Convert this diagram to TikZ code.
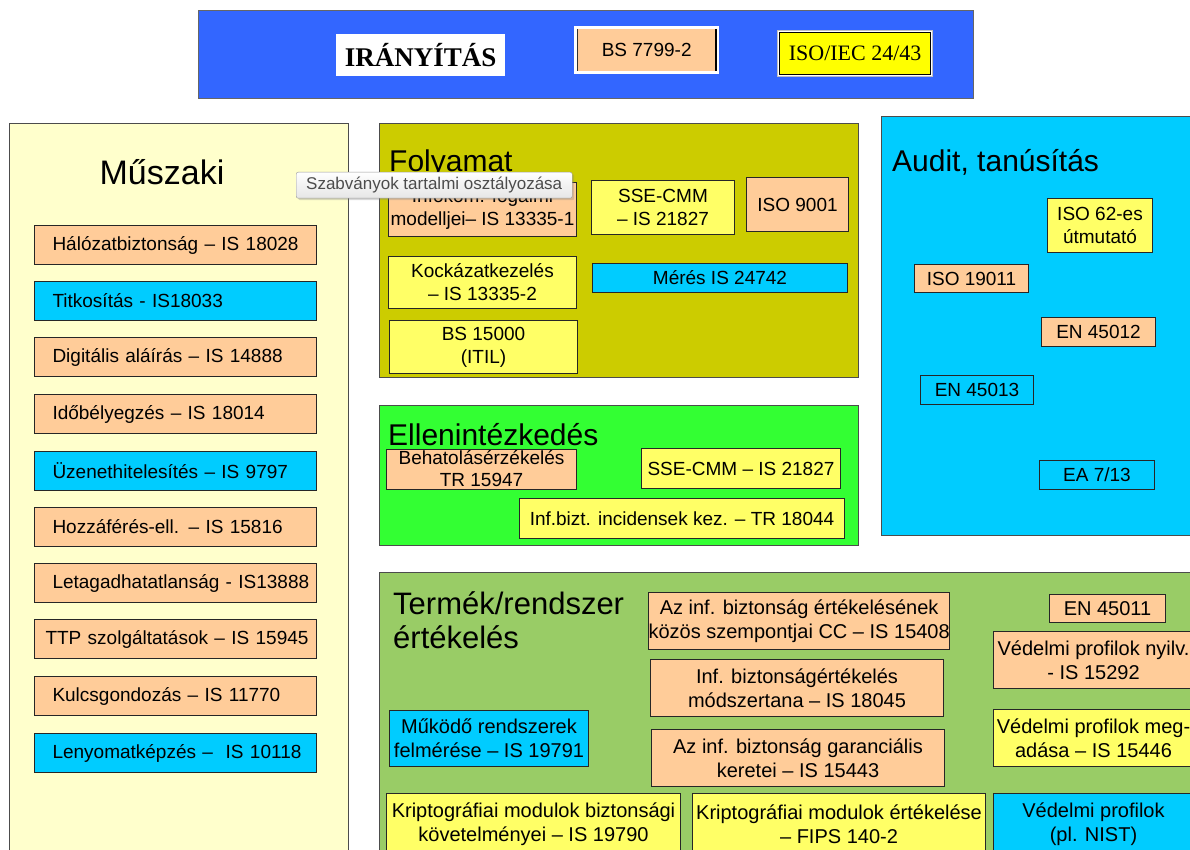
\documentclass[tikz,border=0pt]{standalone}
\usepackage{fontspec}
\setmainfont{Liberation Sans}
\newfontfamily\serifLS{Liberation Serif}
\usetikzlibrary{shadows}
\definecolor{peach}{HTML}{FFCC99}
\definecolor{cyanb}{HTML}{00CCFF}
\definecolor{yelb}{HTML}{FFFF66}
\definecolor{olivebg}{HTML}{CCCC00}
\definecolor{greenbg}{HTML}{33FF33}
\definecolor{termbg}{HTML}{99CC66}
\definecolor{muszbg}{HTML}{FFFFCC}
\definecolor{topbar}{HTML}{3366FF}
\definecolor{isoyel}{HTML}{FFFF00}
\newcommand\fsBox{\fontsize{19}{23}\selectfont}
\newcommand\fsTerm{\fontsize{20}{24}\selectfont}
\newcommand\fsTitle{\fontsize{30}{35}\selectfont}
\tikzset{
  box/.style={draw=black!85, line width=1pt, inner sep=0pt, align=center, anchor=north west, font=\fsBox},
  tbox/.style={box, font=\fsTerm},
  mbox/.style={box, text width=246pt, inner xsep=18pt, inner ysep=0pt, align=left, minimum height=39pt},
  area/.style={draw=black!70, line width=1pt, inner sep=0pt, anchor=north west},
  title/.style={anchor=base west, inner sep=0pt, font=\fsTitle},
}
\begin{document}
\begin{tikzpicture}[x=1pt,y=-1pt]
\useasboundingbox (0,0) rectangle (1190,850);
\fill[white] (0,0) rectangle (1190,850);
\clip (0,0) rectangle (1190,850);

% ---------- top bar ----------
\node[area, fill=topbar, draw=black!60, minimum width=775pt, minimum height=88pt] (bar) at (198,10) {};
\node[anchor=north west, fill=white, inner sep=0pt, minimum width=169pt, minimum height=42pt,
      font=\serifLS\bfseries\fontsize{27}{30}\selectfont] (iran) at (336,34) {IRÁNYÍTÁS};
\node[anchor=north west, fill=white, inner sep=0pt, minimum width=145pt, minimum height=48pt] (bsout) at (574,26) {};
\node[anchor=north west, fill=peach, inner sep=0pt, minimum width=139pt, minimum height=42pt,
      font=\fontsize{19}{22}\selectfont] (bs) at (577,29) {BS 7799-2};
\draw[black!80, line width=1pt] (bs.north west) -- (bs.south west);
\draw[black, line width=2pt] (bs.north east) -- (bs.south east);
\node[anchor=north west, fill=white, draw=black!25, inner sep=0pt, minimum width=155pt, minimum height=46pt] (isoout) at (777,30) {};
\node[box, fill=isoyel, draw=black, line width=1.3pt, minimum width=151pt, minimum height=42pt,
      font=\serifLS\fontsize{22}{24}\selectfont] (iso) at (779,32) {ISO/IEC 24/43};

% ---------- Műszaki ----------
\node[area, fill=muszbg, minimum width=339pt, minimum height=740pt] (musz) at (9,123) {};
\node[inner sep=0pt, font=\fontsize{34}{38}\selectfont] (muszt) at (162,172) {Műszaki};
\node[mbox, fill=peach] (m1) at (34,225) {\mbox{Hálózatbiztonság – IS 18028}};
\node[mbox, fill=cyanb] (m2) at (34,281) {\mbox{Titkosítás - IS18033}};
\node[mbox, fill=peach] (m3) at (34,337) {\mbox{Digitális aláírás – IS 14888}};
\node[mbox, fill=peach] (m4) at (34,394) {\mbox{Időbélyegzés – IS 18014}};
\node[mbox, fill=cyanb] (m5) at (34,451) {\mbox{Üzenethitelesítés – IS 9797}};
\node[mbox, fill=peach] (m6) at (34,507) {\mbox{Hozzáférés-ell. – IS 15816}};
\node[mbox, fill=peach] (m7) at (34,563) {\mbox{Letagadhatatlanság - IS13888}};
\node[mbox, fill=peach, inner xsep=11pt, text width=260pt] (m8) at (34,619) {\mbox{TTP szolgáltatások – IS 15945}};
\node[mbox, fill=peach] (m9) at (34,676) {\mbox{Kulcsgondozás – IS 11770}};
\node[mbox, fill=cyanb] (m10) at (34,733) {\mbox{Lenyomatképzés –\ \ IS 10118}};

% ---------- Folyamat ----------
\node[area, fill=olivebg, minimum width=479pt, minimum height=254pt] (foly) at (379,123) {};
\node[title] (folyt) at (389,172) {Folyamat};
\node[box, fill=peach, minimum width=188pt, minimum height=54pt] (f1) at (388,182) {Infokom. fogalmi\\modelljei– IS 13335-1};
\node[box, fill=yelb, minimum width=143pt, minimum height=54pt] (f2) at (591,180) {SSE-CMM\\– IS 21827};
\node[box, fill=peach, minimum width=102pt, minimum height=54pt] (f3) at (746,177) {ISO 9001};
\node[box, fill=yelb, minimum width=188pt, minimum height=52pt] (f4) at (388,256) {Kockázatkezelés\\– IS 13335-2};
\node[box, fill=cyanb, minimum width=255pt, minimum height=29pt] (f5) at (592,263) {Mérés IS 24742};
\node[box, fill=yelb, minimum width=188pt, minimum height=53pt] (f6) at (389,320) {BS 15000\\(ITIL)};

% ---------- Ellenintézkedés ----------
\node[area, fill=greenbg, minimum width=479pt, minimum height=140pt] (ell) at (379,405) {};
\node[title] (ellt) at (388,445) {Ellenintézkedés};
\node[box, fill=peach, minimum width=190pt, minimum height=40pt] (e1) at (386,449) {};
\node[inner sep=0pt, align=center, font=\fontsize{19}{22}\selectfont] (e1t) at ([yshift=1pt]e1.center) {Behatolásérzékelés\\TR 15947};
\node[box, fill=yelb, minimum width=199pt, minimum height=40pt] (e2) at (641,448) {SSE-CMM – IS 21827};
\node[box, fill=yelb, minimum width=325pt, minimum height=40pt] (e3) at (519,498) {Inf.bizt. incidensek kez. – TR 18044};

% ---------- Audit ----------
\node[area, fill=cyanb, minimum width=330pt, minimum height=419pt] (aud) at (881,116) {};
\node[title] (audt) at (892,172) {Audit, tanúsítás};
\node[box, fill=yelb, minimum width=105pt, minimum height=54pt] (a1) at (1047,198) {ISO 62-es\\útmutató};
\node[box, fill=peach, minimum width=114pt, minimum height=28pt] (a2) at (914,264) {ISO 19011};
\node[box, fill=peach, minimum width=114pt, minimum height=29pt] (a3) at (1041,317) {EN 45012};
\node[box, minimum width=113pt, minimum height=29pt] (a4) at (920,375) {EN 45013};
\node[box, minimum width=115pt, minimum height=29pt] (a5) at (1039,460) {EA 7/13};

% ---------- Termék/rendszer értékelés ----------
\node[area, fill=termbg, minimum width=830pt, minimum height=290pt] (term) at (379,572) {};
\node[title, font=\fontsize{31}{35}\selectfont] (termt1) at (393,614) {Termék/rendszer};
\node[title, font=\fontsize{31}{35}\selectfont] (termt2) at (393,648) {értékelés};
\node[tbox, fill=peach, minimum width=294pt, minimum height=57pt] (t1) at (648,592) {Az inf. biztonság értékelésének\\közös szempontjai CC – IS 15408};
\node[tbox, fill=peach, minimum width=293pt, minimum height=57pt] (t2) at (650,659) {Inf. biztonságértékelés\\módszertana – IS 18045};
\node[tbox, fill=peach, minimum width=293pt, minimum height=57pt] (t3) at (651,729) {Az inf. biztonság garanciális\\keretei – IS 15443};
\node[tbox, fill=cyanb, minimum width=199pt, minimum height=56pt] (t4) at (389,710) {Működő rendszerek\\felmérése – IS 19791};
\node[tbox, fill=peach, minimum width=116pt, minimum height=28pt] (t5) at (1049,594) {EN 45011};
\node[tbox, fill=peach, minimum width=200pt, minimum height=57pt] (t6) at (993,631) {Védelmi profilok nyilv.\\- IS 15292};
\node[tbox, fill=yelb, minimum width=200pt, minimum height=57pt] (t7) at (993,709) {Védelmi profilok meg-\\adása – IS 15446};
\node[tbox, fill=yelb, minimum width=294pt, minimum height=62pt] (t8) at (386,793) {Kriptográfiai modulok biztonsági\\követelményei – IS 19790};
\node[tbox, fill=yelb, minimum width=293pt, minimum height=62pt] (t9) at (692,793) {Kriptográfiai modulok értékelése\\– FIPS 140-2};
\node[tbox, fill=cyanb, minimum width=200pt, minimum height=62pt] (t10) at (993,793) {Védelmi profilok\\(pl. NIST)};

% ---------- tooltip ----------
\node[anchor=north west, draw=black!40, rounded corners=2pt, top color=white, bottom color=black!10,
      drop shadow={shadow xshift=2pt, shadow yshift=-2pt, opacity=0.3},
      minimum width=276pt, minimum height=26pt, inner sep=0pt, text=black!70,
      font=\fontsize{17}{19}\selectfont] (tip) at (296,172) {Szabványok tartalmi osztályozása};
\end{tikzpicture}
\end{document}
